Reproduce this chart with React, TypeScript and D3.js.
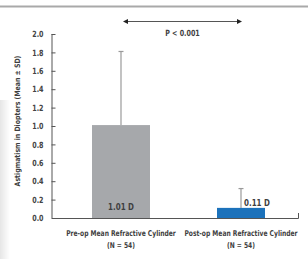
import { useEffect, useRef } from 'react'
import * as d3 from 'd3'

const groups = ['Pre-op Mean Refractive Cylinder', 'Post-op Mean Refractive Cylinder']
const groupN = ['(N = 54)', '(N = 54)']
const means = [1.01, 0.11]
const sds = [0.8, 0.21]
const valueLabels = ['1.01 D', '0.11 D']
const yTicks = [0, 0.2, 0.4, 0.6, 0.8, 1.0, 1.2, 1.4, 1.6, 1.8, 2.0]
const pLabel = 'P < 0.001'
const yTitle = 'Astigmatism in Diopters (Mean ± SD)'

const FONT = '"DejaVu Sans", "Roboto", sans-serif'
const SX = 0.75 // horizontal squeeze to mimic the condensed face

function label(
  parent: d3.Selection<any, unknown, null, undefined>,
  x: number, y: number, text: string, size: number,
  anchor: string = 'middle', sx: number = SX, rotate: number = 0
) {
  parent.append('text')
    .attr('transform', `translate(${x},${y}) rotate(${rotate}) scale(${sx},1)`)
    .attr('text-anchor', anchor)
    .style('font-family', FONT)
    .style('font-size', `${size}px`)
    .style('font-weight', 'bold')
    .attr('fill', '#3f3f3f')
    .text(text)
}

export default function App() {
  const svgRef = useRef<SVGSVGElement>(null)

  useEffect(() => {
    if (!svgRef.current) return
    const svg = d3.select(svgRef.current)
    svg.selectAll('*').remove()

    const W = 308
    const H = 259

    // page edge from the source scan
    const defs = svg.append('defs')
    const grad = defs.append('linearGradient').attr('id', 'edge').attr('x1', 0).attr('x2', 1)
    grad.append('stop').attr('offset', 0).attr('stop-color', '#e6e6e6')
    grad.append('stop').attr('offset', 1).attr('stop-color', '#ffffff')
    svg.append('rect').attr('width', W).attr('height', H).attr('fill', '#fff')
    svg.append('rect').attr('x', 0).attr('y', 100).attr('width', 10).attr('height', H - 100).attr('fill', 'url(#edge)')
    svg.append('rect').attr('x', 0).attr('y', 5.5).attr('width', W).attr('height', 2).attr('fill', '#a9a9a9')

    const y = d3.scaleLinear().domain([0, 2]).range([218, 34])
    const x = d3.scalePoint<string>().domain(groups).range([121, 241])
    const barWidth = [58, 48]
    const barColors = ['#a6a8ab', '#1c72bb']

    // y axis
    const yAxis = svg.append('g')
      .attr('transform', 'translate(51.5,0)')
      .call(d3.axisRight(y).tickValues(yTicks).tickSize(4).tickFormat(d3.format('.1f')) as any)
    yAxis.select('.domain').attr('stroke', '#555').attr('d', `M0.5,${y(2)}V${y(0)}`)
    yAxis.selectAll('.tick line').attr('stroke', '#555')
    yAxis.selectAll('.tick text')
      .attr('x', -8 / SX)
      .attr('transform', `scale(${SX},1)`)
      .attr('text-anchor', 'end')
      .style('font-family', FONT)
      .style('font-size', '8.5px')
      .style('font-weight', 'bold')
      .attr('fill', '#444')

    // x axis baseline
    svg.append('path')
      .attr('d', `M52,${y(0) + 0.5}H298.5V${y(0) - 5}`)
      .attr('fill', 'none')
      .attr('stroke', '#555')
      .attr('stroke-width', 1)

    // bars
    groups.forEach((g, i) => {
      const cx = x(g) as number
      svg.append('rect')
        .attr('x', cx - barWidth[i] / 2)
        .attr('y', y(means[i]))
        .attr('width', barWidth[i])
        .attr('height', y(0) - y(means[i]))
        .attr('fill', barColors[i])

      // error bar (upper only)
      svg.append('line')
        .attr('x1', cx).attr('x2', cx)
        .attr('y1', y(means[i])).attr('y2', y(means[i] + sds[i]))
        .attr('stroke', '#9a9a9a').attr('stroke-width', 1.2)
      svg.append('line')
        .attr('x1', cx - 2.5).attr('x2', cx + 2.5)
        .attr('y1', y(means[i] + sds[i])).attr('y2', y(means[i] + sds[i]))
        .attr('stroke', '#9a9a9a').attr('stroke-width', 1.2)

      // category labels
      label(svg, cx, 236, g, 8)
      label(svg, cx, 248, groupN[i], 8)
    })

    // value labels
    label(svg, x(groups[0]) as number, 210, valueLabels[0], 9.5)
    label(svg, (x(groups[1]) as number) + 3, 206, valueLabels[1], 9.5, 'start')

    // significance arrow
    const ax1 = (x(groups[0]) as number) + 2
    const ax2 = (x(groups[1]) as number) + 1
    svg.append('line')
      .attr('x1', ax1 + 4).attr('x2', ax2 - 4)
      .attr('y1', 21.5).attr('y2', 21.5)
      .attr('stroke', '#555').attr('stroke-width', 1.2)
    svg.append('path').attr('d', `M${ax1},21.5l5,-2.5v5z`).attr('fill', '#222')
    svg.append('path').attr('d', `M${ax2},21.5l-5,-2.5v5z`).attr('fill', '#222')
    label(svg, (ax1 + ax2) / 2, 36, pLabel, 8.5)

    // y title
    label(svg, 20, 121, yTitle, 7.5, 'middle', 0.83, -90)
  }, [])

  return (
    <svg
      ref={svgRef}
      width={308}
      height={259}
      style={{ position: 'absolute', left: 0, top: 0, display: 'block' }}
    />
  )
}
